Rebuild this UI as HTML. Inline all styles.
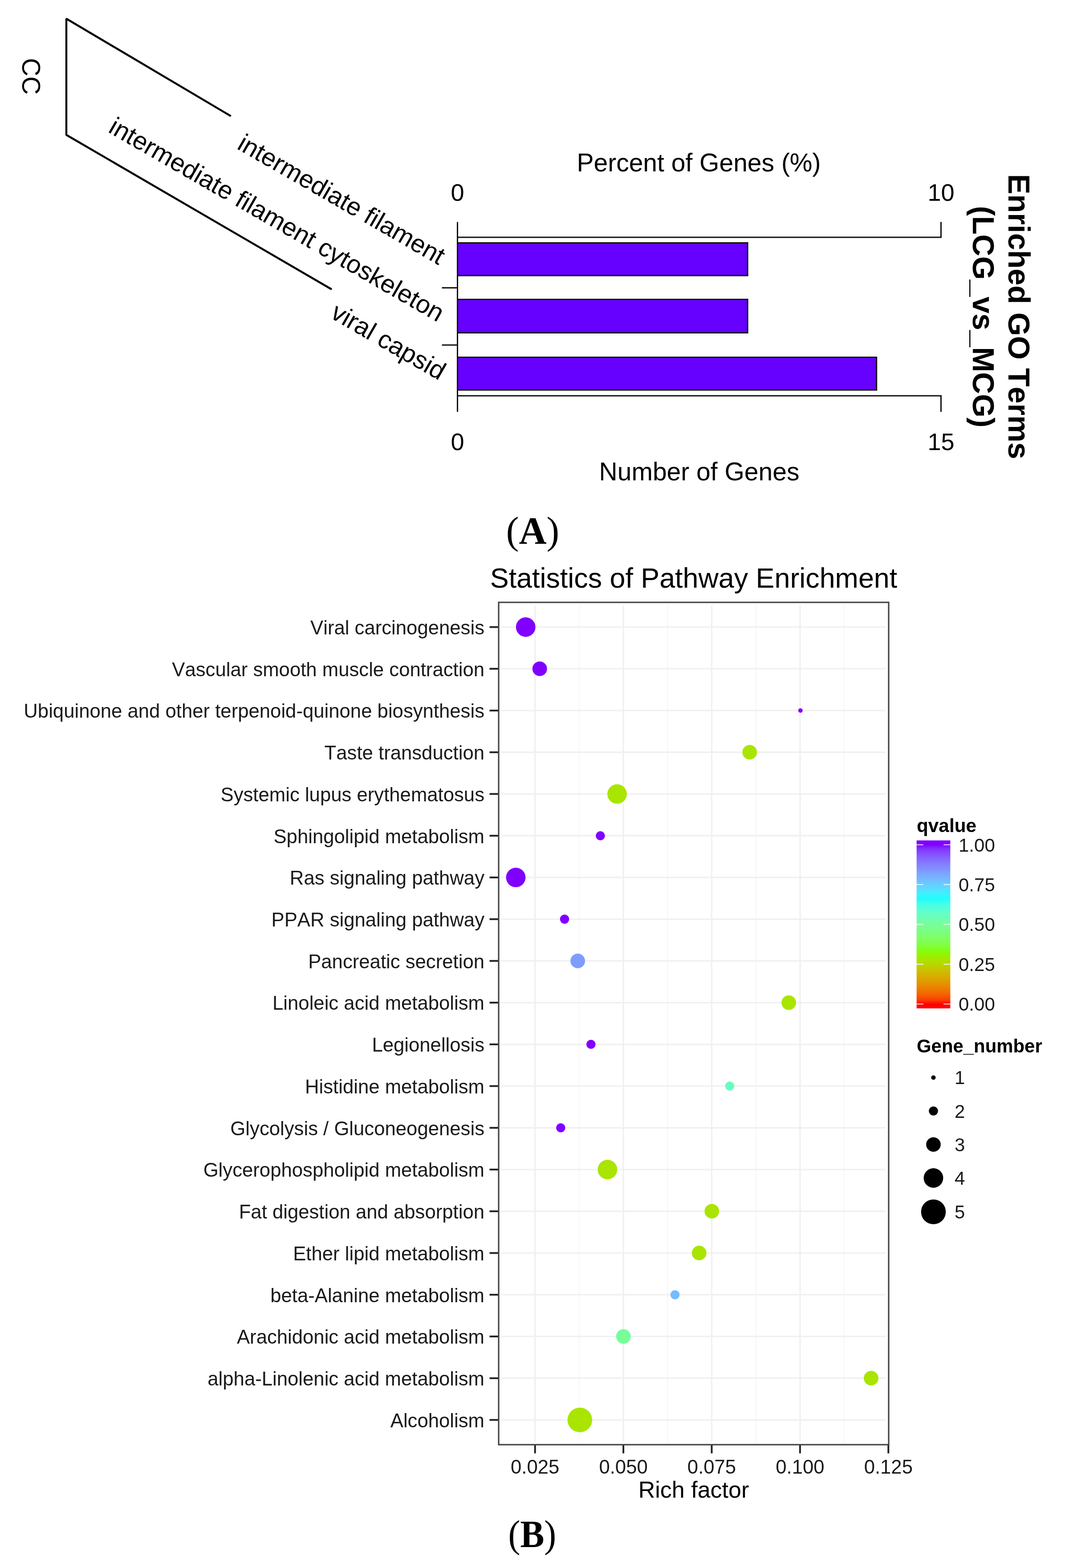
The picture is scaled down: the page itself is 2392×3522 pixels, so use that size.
<!DOCTYPE html><html><head><meta charset="utf-8"><style>html,body{margin:0;padding:0;background:#fff}svg{display:block}text{font-kerning:none}</style></head><body><div id="w"><svg width="2392" height="3522" viewBox="0 0 2392 3522" font-family="Liberation Sans, Arial, sans-serif">
<rect width="2392" height="3522" fill="#fff"/>
<text transform="translate(50,171.5) rotate(90)" font-size="57" text-anchor="middle" fill="#000">CC</text>
<polyline points="518.6,260.8 149,42 149,303 745,650" fill="none" stroke="#000" stroke-width="4.4" stroke-linejoin="bevel"/>
<text transform="translate(529.9,332.9) rotate(30)" font-size="56.65" fill="#000">intermediate filament</text>
<text transform="translate(240.8,295.6) rotate(30)" font-size="56.7" fill="#000">intermediate filament cytoskeleton</text>
<text transform="translate(739.5,712.5) rotate(30)" font-size="57" fill="#000">viral capsid</text>
<text x="1569.5" y="385" font-size="57" text-anchor="middle" fill="#000">Percent of Genes (%)</text>
<text x="1027.5" y="451" font-size="54.15" text-anchor="middle" fill="#000">0</text>
<text x="2113.5" y="451" font-size="54.15" text-anchor="middle" fill="#000">10</text>
<text x="1027.5" y="1011" font-size="54.15" text-anchor="middle" fill="#000">0</text>
<text x="2113.5" y="1011" font-size="54.15" text-anchor="middle" fill="#000">15</text>
<text x="1570.5" y="1079" font-size="57" text-anchor="middle" fill="#000">Number of Genes</text>
<g stroke="#111" stroke-width="3" fill="none">
<polyline points="1027.5,498.5 1027.5,925"/>
<polyline points="1027.5,533 2113.5,533 2113.5,498.5"/>
<polyline points="1027.5,889 2113.5,889 2113.5,925"/>
<line x1="992.5" y1="646.5" x2="1027.5" y2="646.5"/>
<line x1="992.5" y1="775" x2="1027.5" y2="775"/>
</g>
<rect x="1027.5" y="545.5" width="651.6" height="73.5" fill="#6600ff" stroke="#111" stroke-width="3"/>
<rect x="1027.5" y="672.5" width="651.6" height="75.0" fill="#6600ff" stroke="#111" stroke-width="3"/>
<rect x="1027.5" y="802.5" width="941.2" height="73.5" fill="#6600ff" stroke="#111" stroke-width="3"/>
<text transform="translate(2265,711.3) rotate(90)" font-size="68.2" font-weight="bold" text-anchor="middle" fill="#000">Enriched GO Terms</text>
<text transform="translate(2185,711.5) rotate(90)" font-size="67.9" font-weight="bold" text-anchor="middle" fill="#000">(LCG_vs_MCG)</text>
<text x="1196.5" y="1221.2" font-size="86" text-anchor="middle" font-family="Liberation Serif, Times New Roman, serif" fill="#000">(<tspan font-weight="bold">A</tspan>)</text>
<text x="1558" y="1320" font-size="62.8" text-anchor="middle" fill="#000">Statistics of Pathway Enrichment</text>
<rect x="1120" y="1353" width="876" height="1892" fill="#fff"/>
<g stroke="#f7f7f7" stroke-width="2.6">
<line x1="1300.9" y1="1360" x2="1300.9" y2="3238"/>
<line x1="1499.3" y1="1360" x2="1499.3" y2="3238"/>
<line x1="1697.7" y1="1360" x2="1697.7" y2="3238"/>
<line x1="1896.1" y1="1360" x2="1896.1" y2="3238"/>
</g><g stroke="#f0f0f0" stroke-width="3.2">
<line x1="1201.7" y1="1360" x2="1201.7" y2="3238"/>
<line x1="1400.1" y1="1360" x2="1400.1" y2="3238"/>
<line x1="1598.5" y1="1360" x2="1598.5" y2="3238"/>
<line x1="1796.9" y1="1360" x2="1796.9" y2="3238"/>
<line x1="1126" y1="1408.5" x2="1989" y2="1408.5"/>
<line x1="1126" y1="1502.2" x2="1989" y2="1502.2"/>
<line x1="1126" y1="1596.0" x2="1989" y2="1596.0"/>
<line x1="1126" y1="1689.7" x2="1989" y2="1689.7"/>
<line x1="1126" y1="1783.4" x2="1989" y2="1783.4"/>
<line x1="1126" y1="1877.2" x2="1989" y2="1877.2"/>
<line x1="1126" y1="1970.9" x2="1989" y2="1970.9"/>
<line x1="1126" y1="2064.6" x2="1989" y2="2064.6"/>
<line x1="1126" y1="2158.4" x2="1989" y2="2158.4"/>
<line x1="1126" y1="2252.1" x2="1989" y2="2252.1"/>
<line x1="1126" y1="2345.8" x2="1989" y2="2345.8"/>
<line x1="1126" y1="2439.5" x2="1989" y2="2439.5"/>
<line x1="1126" y1="2533.3" x2="1989" y2="2533.3"/>
<line x1="1126" y1="2627.0" x2="1989" y2="2627.0"/>
<line x1="1126" y1="2720.7" x2="1989" y2="2720.7"/>
<line x1="1126" y1="2814.5" x2="1989" y2="2814.5"/>
<line x1="1126" y1="2908.2" x2="1989" y2="2908.2"/>
<line x1="1126" y1="3001.9" x2="1989" y2="3001.9"/>
<line x1="1126" y1="3095.7" x2="1989" y2="3095.7"/>
<line x1="1126" y1="3189.4" x2="1989" y2="3189.4"/>
</g>
<text x="1088" y="1424.8" font-size="43.7" text-anchor="end" fill="#1a1a1a">Viral carcinogenesis</text>
<circle cx="1180.7" cy="1408.5" r="21.9" fill="#8000ff"/>
<text x="1088" y="1518.5" font-size="43.7" text-anchor="end" fill="#1a1a1a">Vascular smooth muscle contraction</text>
<circle cx="1212.2" cy="1502.2" r="16.4" fill="#8000ff"/>
<text x="1088" y="1612.3" font-size="43.7" text-anchor="end" fill="#1a1a1a">Ubiquinone and other terpenoid-quinone biosynthesis</text>
<circle cx="1797.8" cy="1596.0" r="5" fill="#8000ff"/>
<text x="1088" y="1706.0" font-size="43.7" text-anchor="end" fill="#1a1a1a">Taste transduction</text>
<circle cx="1683.8" cy="1689.7" r="16.4" fill="#a9e500"/>
<text x="1088" y="1799.7" font-size="43.7" text-anchor="end" fill="#1a1a1a">Systemic lupus erythematosus</text>
<circle cx="1386" cy="1783.4" r="21.9" fill="#a9e500"/>
<text x="1088" y="1893.5" font-size="43.7" text-anchor="end" fill="#1a1a1a">Sphingolipid metabolism</text>
<circle cx="1348.4" cy="1877.2" r="10.3" fill="#8000ff"/>
<text x="1088" y="1987.2" font-size="43.7" text-anchor="end" fill="#1a1a1a">Ras signaling pathway</text>
<circle cx="1158.5" cy="1970.9" r="21.9" fill="#8000ff"/>
<text x="1088" y="2080.9" font-size="43.7" text-anchor="end" fill="#1a1a1a">PPAR signaling pathway</text>
<circle cx="1268" cy="2064.6" r="10.3" fill="#8000ff"/>
<text x="1088" y="2174.7" font-size="43.7" text-anchor="end" fill="#1a1a1a">Pancreatic secretion</text>
<circle cx="1297.6" cy="2158.4" r="16.4" fill="#7e9dff"/>
<text x="1088" y="2268.4" font-size="43.7" text-anchor="end" fill="#1a1a1a">Linoleic acid metabolism</text>
<circle cx="1771.6" cy="2252.1" r="16.4" fill="#a9e500"/>
<text x="1088" y="2362.1" font-size="43.7" text-anchor="end" fill="#1a1a1a">Legionellosis</text>
<circle cx="1327.3" cy="2345.8" r="10.3" fill="#8000ff"/>
<text x="1088" y="2455.8" font-size="43.7" text-anchor="end" fill="#1a1a1a">Histidine metabolism</text>
<circle cx="1639" cy="2439.5" r="10.3" fill="#67fec0"/>
<text x="1088" y="2549.6" font-size="43.7" text-anchor="end" fill="#1a1a1a">Glycolysis / Gluconeogenesis</text>
<circle cx="1259.4" cy="2533.3" r="10.3" fill="#8000ff"/>
<text x="1088" y="2643.3" font-size="43.7" text-anchor="end" fill="#1a1a1a">Glycerophospholipid metabolism</text>
<circle cx="1364.4" cy="2627.0" r="21.9" fill="#a9e500"/>
<text x="1088" y="2737.0" font-size="43.7" text-anchor="end" fill="#1a1a1a">Fat digestion and absorption</text>
<circle cx="1598.8" cy="2720.7" r="16.4" fill="#a9e500"/>
<text x="1088" y="2830.8" font-size="43.7" text-anchor="end" fill="#1a1a1a">Ether lipid metabolism</text>
<circle cx="1570.3" cy="2814.5" r="16.4" fill="#a9e500"/>
<text x="1088" y="2924.5" font-size="43.7" text-anchor="end" fill="#1a1a1a">beta-Alanine metabolism</text>
<circle cx="1516" cy="2908.2" r="10.3" fill="#73bcff"/>
<text x="1088" y="3018.2" font-size="43.7" text-anchor="end" fill="#1a1a1a">Arachidonic acid metabolism</text>
<circle cx="1400.3" cy="3001.9" r="16.4" fill="#77fe99"/>
<text x="1088" y="3112.0" font-size="43.7" text-anchor="end" fill="#1a1a1a">alpha-Linolenic acid metabolism</text>
<circle cx="1956.5" cy="3095.7" r="16.4" fill="#a9e500"/>
<text x="1088" y="3205.7" font-size="43.7" text-anchor="end" fill="#1a1a1a">Alcoholism</text>
<circle cx="1302.3" cy="3189.4" r="27.7" fill="#a9e500"/>
<g stroke="#222" stroke-width="4">
<line x1="1099.5" y1="1408.5" x2="1120" y2="1408.5"/>
<line x1="1099.5" y1="1502.2" x2="1120" y2="1502.2"/>
<line x1="1099.5" y1="1596.0" x2="1120" y2="1596.0"/>
<line x1="1099.5" y1="1689.7" x2="1120" y2="1689.7"/>
<line x1="1099.5" y1="1783.4" x2="1120" y2="1783.4"/>
<line x1="1099.5" y1="1877.2" x2="1120" y2="1877.2"/>
<line x1="1099.5" y1="1970.9" x2="1120" y2="1970.9"/>
<line x1="1099.5" y1="2064.6" x2="1120" y2="2064.6"/>
<line x1="1099.5" y1="2158.4" x2="1120" y2="2158.4"/>
<line x1="1099.5" y1="2252.1" x2="1120" y2="2252.1"/>
<line x1="1099.5" y1="2345.8" x2="1120" y2="2345.8"/>
<line x1="1099.5" y1="2439.5" x2="1120" y2="2439.5"/>
<line x1="1099.5" y1="2533.3" x2="1120" y2="2533.3"/>
<line x1="1099.5" y1="2627.0" x2="1120" y2="2627.0"/>
<line x1="1099.5" y1="2720.7" x2="1120" y2="2720.7"/>
<line x1="1099.5" y1="2814.5" x2="1120" y2="2814.5"/>
<line x1="1099.5" y1="2908.2" x2="1120" y2="2908.2"/>
<line x1="1099.5" y1="3001.9" x2="1120" y2="3001.9"/>
<line x1="1099.5" y1="3095.7" x2="1120" y2="3095.7"/>
<line x1="1099.5" y1="3189.4" x2="1120" y2="3189.4"/>
<line x1="1201.7" y1="3245" x2="1201.7" y2="3264.5"/>
<line x1="1400.1" y1="3245" x2="1400.1" y2="3264.5"/>
<line x1="1598.5" y1="3245" x2="1598.5" y2="3264.5"/>
<line x1="1796.9" y1="3245" x2="1796.9" y2="3264.5"/>
<line x1="1995.3" y1="3245" x2="1995.3" y2="3264.5"/>
</g>
<rect x="1120" y="1353" width="876" height="1892" fill="none" stroke="#444" stroke-width="3.2"/>
<text x="1201.7" y="3309.5" font-size="43.7" text-anchor="middle" fill="#1a1a1a">0.025</text>
<text x="1400.1" y="3309.5" font-size="43.7" text-anchor="middle" fill="#1a1a1a">0.050</text>
<text x="1598.5" y="3309.5" font-size="43.7" text-anchor="middle" fill="#1a1a1a">0.075</text>
<text x="1796.9" y="3309.5" font-size="43.7" text-anchor="middle" fill="#1a1a1a">0.100</text>
<text x="1995.3" y="3309.5" font-size="43.7" text-anchor="middle" fill="#1a1a1a">0.125</text>
<text x="1558" y="3363.6" font-size="52" text-anchor="middle" fill="#000">Rich factor</text>
<text transform="translate(1195.4,3474.5) scale(0.94,1)" font-size="86" text-anchor="middle" font-family="Liberation Serif, Times New Roman, serif" fill="#000">(<tspan font-weight="bold">B</tspan>)</text>
<defs><linearGradient id="cb" x1="0" y1="1" x2="0" y2="0">
<stop offset="0.000" stop-color="#ff0000"/>
<stop offset="0.025" stop-color="#ff0000"/>
<stop offset="0.050" stop-color="#fb3e00"/>
<stop offset="0.075" stop-color="#f65a00"/>
<stop offset="0.100" stop-color="#f17000"/>
<stop offset="0.125" stop-color="#eb8200"/>
<stop offset="0.150" stop-color="#e59300"/>
<stop offset="0.175" stop-color="#dda300"/>
<stop offset="0.200" stop-color="#d4b200"/>
<stop offset="0.225" stop-color="#cbc000"/>
<stop offset="0.250" stop-color="#bfce00"/>
<stop offset="0.275" stop-color="#b2dc00"/>
<stop offset="0.300" stop-color="#a3e900"/>
<stop offset="0.325" stop-color="#90f600"/>
<stop offset="0.350" stop-color="#80ff1b"/>
<stop offset="0.375" stop-color="#81ff3e"/>
<stop offset="0.400" stop-color="#80ff55"/>
<stop offset="0.425" stop-color="#7fff69"/>
<stop offset="0.450" stop-color="#7dfe7b"/>
<stop offset="0.475" stop-color="#7afe8c"/>
<stop offset="0.500" stop-color="#76fe9c"/>
<stop offset="0.525" stop-color="#71feac"/>
<stop offset="0.550" stop-color="#6afebc"/>
<stop offset="0.575" stop-color="#60ffcc"/>
<stop offset="0.600" stop-color="#53ffdb"/>
<stop offset="0.625" stop-color="#41ffeb"/>
<stop offset="0.650" stop-color="#1ffffa"/>
<stop offset="0.675" stop-color="#35f4ff"/>
<stop offset="0.700" stop-color="#50e5ff"/>
<stop offset="0.725" stop-color="#61d5ff"/>
<stop offset="0.750" stop-color="#6dc5ff"/>
<stop offset="0.775" stop-color="#76b6ff"/>
<stop offset="0.800" stop-color="#7ca6ff"/>
<stop offset="0.825" stop-color="#8095ff"/>
<stop offset="0.850" stop-color="#8385ff"/>
<stop offset="0.875" stop-color="#8573ff"/>
<stop offset="0.900" stop-color="#8560ff"/>
<stop offset="0.925" stop-color="#844cff"/>
<stop offset="0.950" stop-color="#8332ff"/>
<stop offset="0.975" stop-color="#8000ff"/>
<stop offset="1.000" stop-color="#8000ff"/>
</linearGradient></defs>
<text x="2059" y="1869.3" font-size="42.3" font-weight="bold" fill="#000">qvalue</text>
<rect x="2058.7" y="1887.7" width="75.7" height="377.3" fill="url(#cb)"/>
<g stroke="#fff" stroke-width="2.2" opacity="0.8">
<line x1="2058.7" y1="2255.2" x2="2073.7" y2="2255.2"/><line x1="2119.4" y1="2255.2" x2="2134.4" y2="2255.2"/>
<line x1="2058.7" y1="2165.8" x2="2073.7" y2="2165.8"/><line x1="2119.4" y1="2165.8" x2="2134.4" y2="2165.8"/>
<line x1="2058.7" y1="2076.3" x2="2073.7" y2="2076.3"/><line x1="2119.4" y1="2076.3" x2="2134.4" y2="2076.3"/>
<line x1="2058.7" y1="1986.9" x2="2073.7" y2="1986.9"/><line x1="2119.4" y1="1986.9" x2="2134.4" y2="1986.9"/>
<line x1="2058.7" y1="1897.5" x2="2073.7" y2="1897.5"/><line x1="2119.4" y1="1897.5" x2="2134.4" y2="1897.5"/>
</g>
<text x="2153" y="2270.2" font-size="42" fill="#1a1a1a">0.00</text>
<text x="2153" y="2180.8" font-size="42" fill="#1a1a1a">0.25</text>
<text x="2153" y="2091.3" font-size="42" fill="#1a1a1a">0.50</text>
<text x="2153" y="2001.9" font-size="42" fill="#1a1a1a">0.75</text>
<text x="2153" y="1912.5" font-size="42" fill="#1a1a1a">1.00</text>
<text x="2059" y="2364.2" font-size="41.9" font-weight="bold" fill="#000">Gene_number</text>
<circle cx="2096.5" cy="2420.4" r="5" fill="#000"/>
<text x="2144" y="2435.4" font-size="42" fill="#1a1a1a">1</text>
<circle cx="2096.5" cy="2495.5" r="10.3" fill="#000"/>
<text x="2144" y="2510.5" font-size="42" fill="#1a1a1a">2</text>
<circle cx="2096.5" cy="2570.7" r="16.3" fill="#000"/>
<text x="2144" y="2585.7" font-size="42" fill="#1a1a1a">3</text>
<circle cx="2096.5" cy="2646" r="21.9" fill="#000"/>
<text x="2144" y="2661.0" font-size="42" fill="#1a1a1a">4</text>
<circle cx="2096.5" cy="2722" r="27.8" fill="#000"/>
<text x="2144" y="2737.0" font-size="42" fill="#1a1a1a">5</text>
</svg></div></body></html>
